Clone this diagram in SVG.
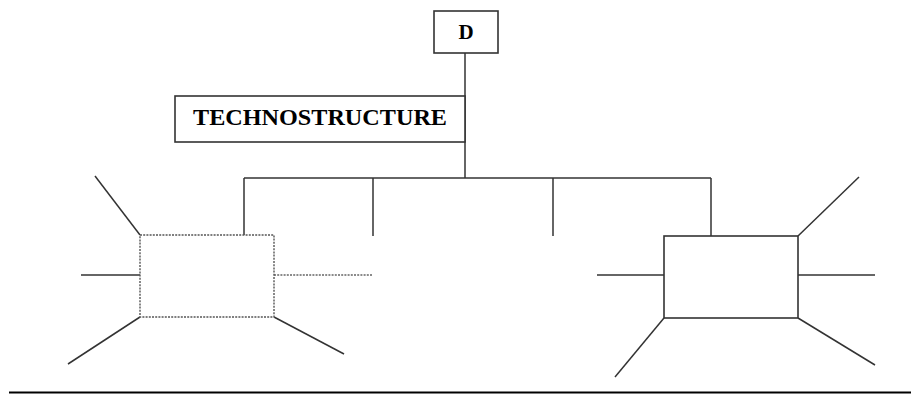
<svg xmlns="http://www.w3.org/2000/svg" width="911" height="394" viewBox="0 0 911 394">
  <style>
    .box { fill: #ffffff; stroke: #333333; stroke-width: 1.6; }
    .dotted { fill: #ffffff; stroke: #555555; stroke-width: 1.4; stroke-dasharray: 2 1.2; }
    .ln { stroke: #333333; stroke-width: 1.5; fill: none; }
    .dln { stroke: #666666; stroke-width: 1.4; stroke-dasharray: 2 1.2; fill: none; }
    .lbl { font-family: "Liberation Serif", "Times New Roman", serif; font-weight: bold; fill: #000000; text-anchor: middle; }
  </style>

  <!-- connectors -->
  <g id="connectors">
    <!-- trunk from D down to the bus -->
    <line class="ln" x1="465" y1="53" x2="465" y2="178"/>
    <!-- horizontal bus -->
    <line class="ln" x1="244" y1="178" x2="711" y2="178"/>
    <!-- drops from the bus -->
    <line class="ln" x1="244" y1="178" x2="244" y2="235"/>
    <line class="ln" x1="373" y1="178" x2="373" y2="236"/>
    <line class="ln" x1="553" y1="178" x2="553" y2="236"/>
    <line class="ln" x1="711" y1="178" x2="711" y2="236"/>

    <!-- spokes around the left unit -->
    <line class="ln" x1="95" y1="176" x2="140" y2="235"/>
    <line class="ln" x1="81" y1="275" x2="140" y2="275"/>
    <line class="ln" x1="140" y1="317" x2="68" y2="364"/>
    <line class="ln" x1="274" y1="317" x2="344" y2="354"/>
    <line class="dln" x1="274" y1="275" x2="373" y2="275"/>

    <!-- spokes around the right unit -->
    <line class="ln" x1="798" y1="236" x2="859" y2="177"/>
    <line class="ln" x1="798" y1="275" x2="875" y2="275"/>
    <line class="ln" x1="597" y1="275" x2="664" y2="275"/>
    <line class="ln" x1="664" y1="318" x2="615" y2="377"/>
    <line class="ln" x1="798" y1="318" x2="875" y2="365"/>

    <!-- base rule -->
    <line x1="9" y1="392.5" x2="911" y2="392.5" stroke="#000000" stroke-width="2"/>
  </g>

  <g id="node-d">
    <rect class="box" x="434" y="11" width="64" height="42"/>
    <text class="lbl" x="466" y="38.5" font-size="21">D</text>
  </g>

  <g id="node-technostructure">
    <rect class="box" x="175" y="96" width="290" height="46"/>
    <text class="lbl" x="320" y="124.5" font-size="24" textLength="254" lengthAdjust="spacingAndGlyphs">TECHNOSTRUCTURE</text>
  </g>

  <g id="node-left-unit">
    <rect class="dotted" x="140" y="235" width="134" height="82"/>
  </g>

  <g id="node-right-unit">
    <rect class="box" x="664" y="236" width="134" height="82"/>
  </g>
</svg>
